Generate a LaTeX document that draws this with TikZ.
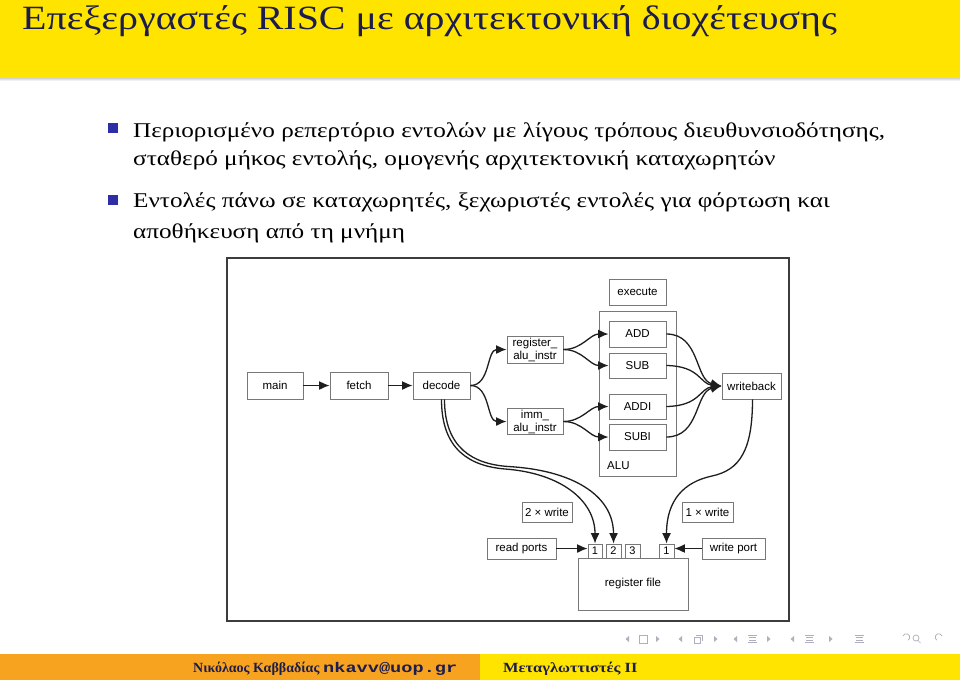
\documentclass[tikz,border=0pt]{standalone}
\usepackage{fontspec}
\setmainfont{Liberation Serif}
\setsansfont{Liberation Sans}
\setmonofont{Liberation Mono}
\newfontfamily\titlefont{Liberation Serif}[FakeStretch=1.175]
\newfontfamily\bodyfont{Liberation Serif}[FakeStretch=1.2]
\newfontfamily\coursefont{Liberation Serif}[FakeStretch=1.17]
\newfontfamily\mailfont{Liberation Mono}[FakeStretch=1.33]
\usetikzlibrary{arrows.meta}
\definecolor{titleyellow}{RGB}{255,228,0}
\definecolor{footorange}{RGB}{247,163,32}
\definecolor{titlecol}{RGB}{28,28,78}
\definecolor{bulletblue}{RGB}{45,45,165}
\definecolor{boxgray}{RGB}{120,120,120}
\definecolor{linecol}{RGB}{30,30,30}
\definecolor{framecol}{RGB}{60,60,60}
\definecolor{navcol}{RGB}{175,175,190}
\tikzset{
  box/.style={draw=boxgray, line width=0.9pt, inner sep=0pt, font=\sffamily\fontsize{11.5}{13}\selectfont, text=black, align=center},
  portbox/.style={box, minimum width=14pt, minimum height=14pt, font=\sffamily\fontsize{11}{12}\selectfont},
  conn/.style={draw=linecol, line width=1.3pt},
  arr/.style={conn, -{Latex[length=10.5pt,width=9pt]}},
  bodytext/.style={anchor=base west, inner sep=0pt, font=\bodyfont\fontsize{21}{25}\selectfont, text=black},
  foottext/.style={anchor=base west, inner sep=0pt, font=\bfseries\fontsize{14}{16}\selectfont, text=titlecol},
  navsym/.style={draw=navcol, line width=0.7pt},
}
\begin{document}
\begin{tikzpicture}[x=1pt,y=1pt]
\useasboundingbox (0,0) rectangle (960,-680);
\fill[white] (0,0) rectangle (960,-680);
% title bar
\fill[titleyellow] (0,0) rectangle (960,-78);
\shade[top color=gray!35, bottom color=white] (0,-78) rectangle (960,-81);
\node[anchor=base west, inner sep=0pt, font=\titlefont\fontsize{34}{40}\selectfont, text=titlecol] (title) at (22,-29) {Επεξεργαστές RISC με αρχιτεκτονική διοχέτευσης};
% bullets
\fill[bulletblue] (108,-123) rectangle (118,-133);
\fill[bulletblue] (108,-195) rectangle (118,-205);
\node[bodytext] (l1) at (133,-137) {Περιορισμένο ρεπερτόριο εντολών με λίγους τρόπους διευθυνσιοδότησης,};
\node[bodytext] (l2) at (133,-165) {σταθερό μήκος εντολής, ομογενής αρχιτεκτονική καταχωρητών};
\node[bodytext] (l3) at (133,-207) {Εντολές πάνω σε καταχωρητές, ξεχωριστές εντολές για φόρτωση και};
\node[bodytext] (l4) at (133,-238) {αποθήκευση από τη μνήμη};
% diagram frame
\draw[framecol, line width=1.6pt] (227,-258) rectangle (789,-621);
% nodes
\node[box, minimum width=56pt, minimum height=27pt] (main) at (275,-385.5) {main};
\node[box, minimum width=58pt, minimum height=27pt] (fetch) at (359,-385.5) {fetch};
\node[box, minimum width=57pt, minimum height=27pt] (decode) at (441.5,-385.5) {decode};
\node[box, minimum width=56pt, minimum height=27pt] (reg) at (535,-349.5) {register\_\\alu\_instr};
\node[box, minimum width=56pt, minimum height=26pt] (imm) at (535,-421.5) {imm\_\\alu\_instr};
\node[box, minimum width=57pt, minimum height=26pt] (execute) at (637.5,-292) {execute};
\node[box, minimum width=77pt, minimum height=165pt] (alu) at (637.5,-393.5) {};
\node[anchor=base west, inner sep=0pt, font=\sffamily\fontsize{11.5}{13}\selectfont] (alulbl) at (607,-469) {ALU};
\node[box, minimum width=57pt, minimum height=26pt] (add) at (637.5,-334) {ADD};
\node[box, minimum width=57pt, minimum height=25pt] (sub) at (637.5,-365.5) {SUB};
\node[box, minimum width=57pt, minimum height=25pt] (addi) at (637.5,-406.5) {ADDI};
\node[box, minimum width=57pt, minimum height=26pt] (subi) at (637.5,-437) {SUBI};
\node[box, minimum width=59pt, minimum height=26pt] (wb) at (751.5,-386) {writeback};
\node[box, minimum width=50pt, minimum height=20pt] (twow) at (547,-512) {2 × write};
\node[box, minimum width=51pt, minimum height=20pt] (onew) at (707.5,-512) {1 × write};
\node[box, minimum width=69pt, minimum height=21pt] (rp) at (521.5,-548.5) {read ports};
\node[box, minimum width=63pt, minimum height=21pt] (wp) at (733.5,-548.5) {write port};
\node[box, minimum width=110pt, minimum height=52pt] (rf) at (633,-584) {register file};
\node[portbox] (p1) at (595,-551) {1};
\node[portbox, minimum width=15pt] (p2) at (613.5,-551) {2};
\node[portbox, minimum width=15pt] (p3) at (632.5,-551) {3};
\node[portbox, minimum width=15pt] (wp1) at (666.5,-551) {1};
% connectors
\draw[arr] (main) -- (fetch);
\draw[arr] (fetch) -- (decode);
\draw[arr] (decode.east) to[out=0,in=180] (reg.west);
\draw[arr] (decode.east) to[out=0,in=180] (imm.west);
\draw[arr] (reg.east) to[out=0,in=180] (add.west);
\draw[arr] (reg.east) to[out=0,in=180] (sub.west);
\draw[arr] (imm.east) to[out=0,in=180] (addi.west);
\draw[arr] (imm.east) to[out=0,in=180] (subi.west);
\draw[arr] (add.east) .. controls (700,-334) and (695,-380) .. (wb.west);
\draw[arr] (sub.east) .. controls (700,-366) and (700,-384) .. (wb.west);
\draw[arr] (addi.east) .. controls (700,-406) and (700,-388) .. (wb.west);
\draw[arr] (subi.east) .. controls (700,-437) and (695,-392) .. (wb.west);
\draw[arr] (decode.south) .. controls (441.5,-450) and (470,-466) .. (505,-469)
  .. controls (560,-473) and (595,-500) .. (p1.north);
\draw[arr] ([xshift=3pt]decode.south) .. controls (444.5,-448) and (473,-464) .. (508,-466.5)
  .. controls (572,-470) and (613.5,-495) .. (p2.north);
\draw[arr] ([xshift=1pt]wb.south) .. controls (752.5,-450) and (740,-470) .. (712,-476)
  .. controls (684,-482) and (666.5,-500) .. (wp1.north);
\draw[arr] (rp.east) -- (rp.east -| p1.west);
\draw[arr] (wp.west) -- (wp.west -| wp1.east);
% navigation symbols
\fill[navcol] (629,-636) -- (625.5,-639) -- (629,-642) -- cycle;
\draw[navsym] (639,-635) rectangle (647,-643);
\fill[navcol] (656,-636) -- (659.5,-639) -- (656,-642) -- cycle;
\fill[navcol] (682,-636) -- (678.5,-639) -- (682,-642) -- cycle;
\draw[navsym] (694,-637) rectangle (700,-643);
\draw[navsym] (696,-635) -- (702,-635) -- (702,-641);
\fill[navcol] (714,-636) -- (717.5,-639) -- (714,-642) -- cycle;
\fill[navcol] (737,-636) -- (733.5,-639) -- (737,-642) -- cycle;
\draw[navsym] (748,-635) -- (757,-635) (749,-637.5) -- (756,-637.5) (749,-640) -- (756,-640) (748,-642.5) -- (757,-642.5);
\fill[navcol] (767,-636) -- (770.5,-639) -- (767,-642) -- cycle;
\fill[navcol] (794,-636) -- (790.5,-639) -- (794,-642) -- cycle;
\draw[navsym] (805,-635) -- (814,-635) (806,-637.5) -- (813,-637.5) (806,-640) -- (813,-640) (805,-642.5) -- (814,-642.5);
\fill[navcol] (829,-636) -- (832.5,-639) -- (829,-642) -- cycle;
\draw[navsym] (855,-635) -- (864,-635) (856,-637.5) -- (863,-637.5) (856,-640) -- (863,-640) (855,-642.5) -- (864,-642.5);
\draw[navsym] (903,-636) arc[start angle=160, end angle=-60, radius=3.5pt];
\draw[navsym] (916,-638) circle[radius=3pt] (918,-640.5) -- (920.5,-643);
\draw[navsym] (942,-636) arc[start angle=20, end angle=240, radius=3.5pt];
% footer
\fill[footorange] (0,-654) rectangle (480,-680);
\fill[titleyellow] (480,-654) rectangle (960,-680);
\node[foottext] (author) at (193,-672) {Νικόλαος Καββαδίας};
\node[foottext, font=\mailfont\bfseries\fontsize{14}{16}\selectfont] (mail) at (323,-672) {nkavv@uop.gr};
\node[foottext, font=\coursefont\bfseries\fontsize{14}{16}\selectfont] (course) at (503,-672) {Μεταγλωττιστές II};
\end{tikzpicture}
\end{document}
